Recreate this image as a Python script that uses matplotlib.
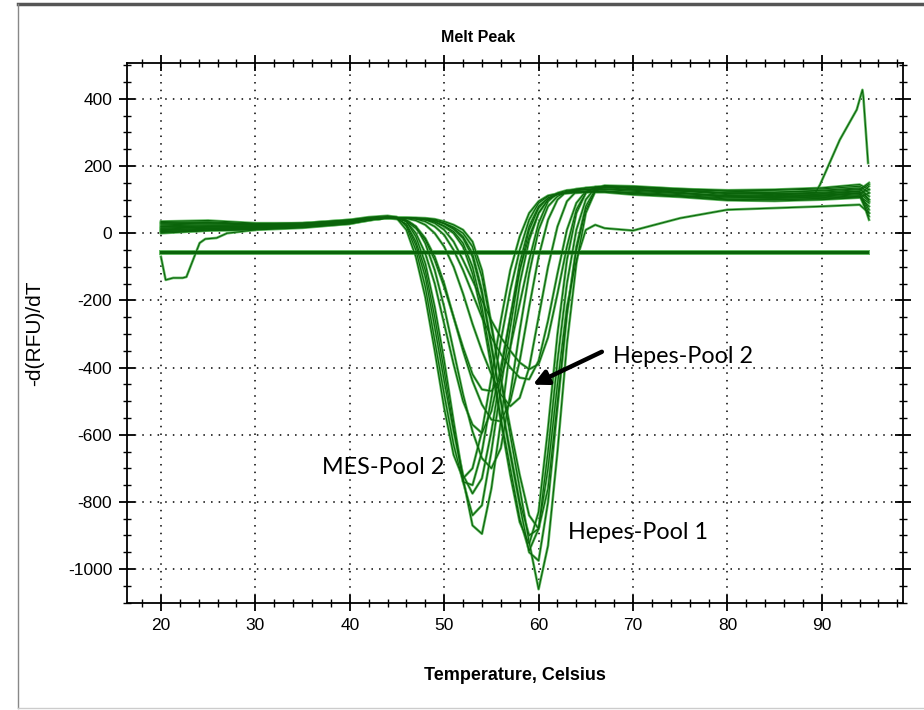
"""
Melt Peak : courbes -d(RFU)/dT en fonction de la température.

Trois groupes de puits : MES-Pool 2, Hepes-Pool 1 et Hepes-Pool 2.
Les valeurs sont relevées à la main sur la figure d'origine.
"""

import matplotlib.pyplot as plt
from matplotlib.lines import Line2D
from matplotlib.ticker import MultipleLocator


# ============================================================================
# Données
# ============================================================================

TEMP_LEFT = [20, 25, 30, 35, 40, 42]
TEMP_PEAK = [44, 45, 46, 47, 48, 49, 50, 51, 52, 53, 54, 55,
             56, 57, 58, 59, 60, 61, 62, 63, 64, 65, 66, 67]
TEMP_RIGHT = [70, 75, 80, 85, 90, 94, 95]

# MES-Pool 2
MES_LEFT = [
    [10, 15, 18, 22, 30, 38],
    [25, 28, 25, 28, 35, 42],
    [0, 8, 12, 18, 28, 40],
    [35, 38, 30, 30, 40, 48],
    [15, 20, 20, 25, 35, 45],
    [5, 10, 15, 20, 30, 40],
    [20, 22, 22, 26, 36, 44],
]
MES_PEAK = [
    [50, 48, 35, -10, -90, -220, -380, -560, -730, -870, -895, -760,
     -560, -340, -150, -20, 60, 100, 118, 125, 128, 130, 130, 130],
    [45, 42, 28, -25, -110, -250, -410, -580, -740, -840, -810, -650,
     -460, -280, -110, 10, 75, 105, 118, 122, 125, 126, 126, 126],
    [48, 45, 25, -35, -130, -280, -440, -590, -720, -775, -730, -590,
     -420, -250, -90, 20, 80, 105, 115, 120, 122, 124, 125, 125],
    [52, 48, 20, -50, -160, -320, -480, -630, -740, -750, -650, -490,
     -320, -170, -50, 40, 90, 110, 118, 120, 122, 123, 124, 124],
    [50, 44, 10, -70, -190, -350, -520, -660, -730, -700, -590, -430,
     -260, -110, -10, 60, 95, 112, 118, 120, 120, 122, 122, 122],
    [45, 45, 40, 20, -30, -110, -220, -350, -480, -590, -670, -700,
     -640, -480, -290, -120, 10, 80, 110, 122, 128, 130, 132, 132],
    [48, 46, 35, 0, -60, -150, -270, -390, -500, -570, -595, -530,
     -400, -250, -110, -10, 60, 100, 115, 120, 122, 124, 125, 125],
]
MES_RIGHT = [
    [125, 118, 112, 110, 112, 120, 70],
    [120, 112, 105, 104, 108, 115, 140],
    [118, 110, 100, 100, 104, 110, 90],
    [122, 115, 108, 106, 110, 118, 60],
    [115, 108, 98, 96, 100, 106, 120],
    [130, 125, 120, 122, 128, 135, 100],
    [118, 112, 102, 100, 102, 108, 80],
]

# Hepes-Pool 1
HEPES1_LEFT = [
    [12, 18, 20, 24, 32, 40],
    [30, 32, 26, 28, 38, 44],
    [2, 8, 10, 16, 28, 38],
    [18, 22, 22, 26, 34, 42],
    [28, 30, 28, 30, 38, 45],
    [8, 12, 15, 20, 30, 40],
]
HEPES1_PEAK = [
    [45, 45, 46, 46, 45, 42, 35, 25, 10, -25, -110, -270,
     -440, -600, -760, -920, -1060, -930, -650, -330, -90, 60, 125, 140],
    [45, 46, 46, 45, 43, 40, 30, 15, -10, -60, -170, -330,
     -500, -660, -810, -950, -975, -800, -520, -240, -40, 80, 130, 140],
    [46, 46, 45, 44, 40, 35, 22, 5, -30, -100, -220, -380,
     -550, -700, -850, -945, -880, -650, -380, -150, 10, 100, 135, 142],
    [44, 44, 44, 43, 40, 33, 20, 0, -40, -120, -240, -400,
     -560, -720, -860, -925, -830, -580, -300, -80, 60, 120, 138, 140],
    [45, 45, 45, 44, 42, 38, 30, 18, 0, -40, -130, -280,
     -430, -580, -720, -840, -880, -760, -500, -240, -50, 70, 125, 138],
    [45, 45, 45, 44, 42, 38, 28, 12, -15, -70, -180, -340,
     -500, -650, -800, -900, -880, -700, -450, -220, -80, 10, 25, 15],
]
HEPES1_RIGHT = [
    [135, 128, 120, 118, 122, 130, 150],
    [138, 130, 118, 115, 118, 125, 100],
    [140, 132, 125, 122, 126, 132, 110],
    [132, 122, 110, 108, 112, 120, 130],
    [136, 126, 115, 112, 116, 124, 40],
    [8, 45, 70, 75, 80, 85, 60],
]

# Hepes-Pool 2
HEPES2_LEFT = [
    [15, 18, 18, 22, 32, 40],
    [22, 25, 24, 28, 36, 44],
    [5, 10, 12, 18, 30, 40],
    [32, 34, 28, 30, 40, 46],
    [10, 14, 16, 22, 32, 42],
]
HEPES2_PEAK = [
    [45, 44, 35, 15, -20, -80, -160, -250, -340, -420, -465, -470,
     -430, -340, -210, -80, 30, 95, 120, 128, 130, 132, 132, 132],
    [46, 46, 44, 38, 25, 0, -40, -100, -180, -270, -350, -420,
     -480, -515, -490, -400, -250, -100, 20, 95, 125, 135, 138, 138],
    [45, 44, 38, 20, -15, -70, -150, -250, -350, -440, -510, -555,
     -560, -500, -380, -220, -70, 40, 100, 125, 132, 135, 136, 136],
    [46, 46, 45, 42, 35, 20, -5, -50, -110, -180, -250, -310,
     -360, -400, -430, -435, -380, -260, -120, 10, 90, 125, 135, 138],
    [47, 47, 46, 44, 40, 30, 10, -25, -80, -140, -200, -260,
     -310, -350, -385, -405, -390, -310, -180, -40, 70, 120, 135, 140],
]
HEPES2_RIGHT = [
    [128, 120, 112, 110, 114, 120, 95],
    [135, 128, 120, 118, 120, 126, 145],
    [130, 120, 108, 104, 106, 112, 50],
    [136, 130, 126, 128, 132, 140, 120],
    [138, 132, 128, 130, 135, 145, 130],
]

# Puits atypiques : creux au début et pic à la fin
DIP_TEMP = [20, 20.5, 21.3, 22.3, 22.7, 24.1, 24.7, 25.9, 27, 30]
DIP_VALUES = [-70, -139, -133, -133, -130, -29, -17, -14, 0, 10]

SPIKE_TEMP = [86, 89.3, 89.8, 91.9, 93.7, 94.3, 94.4, 94.9]
SPIKE_VALUES = [115, 120, 144, 278, 368, 427, 406, 209]

THRESHOLD = -57
THRESHOLD_TEMP = [20, 94.8]


# ============================================================================
# Figure
# ============================================================================

GREEN = "#0a640a"
HALO = "#66bb66"
TEXT_FONT = ["Liberation Sans", "DejaVu Sans"]

plt.rcParams["axes.unicode_minus"] = False


def collect_curves():
    """Renvoie la liste des couples (températures, valeurs) à tracer."""
    temps = TEMP_LEFT + TEMP_PEAK + TEMP_RIGHT
    curves = []
    for lefts, peaks, rights in [
        (MES_LEFT, MES_PEAK, MES_RIGHT),
        (HEPES1_LEFT, HEPES1_PEAK, HEPES1_RIGHT),
        (HEPES2_LEFT, HEPES2_PEAK, HEPES2_RIGHT),
    ]:
        for left, peak, right in zip(lefts, peaks, rights):
            curves.append((temps, left + peak + right))
    curves.append((DIP_TEMP, DIP_VALUES))
    curves.append((SPIKE_TEMP, SPIKE_VALUES))
    return curves


def main():
    fig = plt.figure(figsize=(9.24, 7.10), dpi=100)
    ax = fig.add_axes([0.1374, 0.1507, 0.8399, 0.7606])

    curves = collect_curves()

    # Halo vert clair d'abord, puis le trait sombre par-dessus
    for temps, values in curves:
        ax.plot(temps, values, color=HALO, lw=1.9, zorder=2)
    ax.plot(THRESHOLD_TEMP, [THRESHOLD, THRESHOLD], color=HALO, lw=3.6,
            zorder=2)
    for temps, values in curves:
        ax.plot(temps, values, color=GREEN, lw=0.8, zorder=3)
    ax.plot(THRESHOLD_TEMP, [THRESHOLD, THRESHOLD], color=GREEN, lw=2.2,
            zorder=3)

    ax.set_xlim(16.4, 98.6)
    ax.set_ylim(-1101, 507)
    ax.xaxis.set_minor_locator(MultipleLocator(2))
    ax.yaxis.set_minor_locator(MultipleLocator(50))
    ax.set_xticks(range(20, 100, 10))
    ax.set_yticks(range(-1000, 401, 200))
    ax.tick_params(which="both", direction="inout", top=True, right=True,
                   color="black")
    ax.tick_params(which="major", length=11, width=1.3, labelsize=12.5,
                   pad=5)
    ax.tick_params(which="minor", length=6, width=1.0)
    for lab in ax.get_xticklabels() + ax.get_yticklabels():
        lab.set_family(TEXT_FONT)
    for spine in ax.spines.values():
        spine.set_linewidth(1.3)

    ax.grid(True, which="major", color="black", ls=(0, (1, 4)), lw=1.1)

    ax.set_xlabel("Temperature, Celsius", fontsize=13, fontweight="bold",
                  family=TEXT_FONT)
    ax.xaxis.set_label_coords(0.5, -(667 - 603) / 540)
    ax.set_ylabel("-d(RFU)/dT", fontsize=15, family=TEXT_FONT)
    ax.yaxis.set_label_coords(-(127 - 44) / 776, 0.5)
    fig.text(478 / 924, 1 - 37 / 710, "Melt Peak", ha="center", va="center",
             fontsize=11.5, fontweight="bold", family=TEXT_FONT)

    note_font = dict(fontsize=16.8, family=["Lato", "DejaVu Sans"],
                     va="center", zorder=5)
    ax.text(67.9, -368, "Hepes-Pool 2", **note_font)
    ax.text(37.05, -699, "MES-Pool 2", **note_font)
    ax.text(63.1, -890, "Hepes-Pool 1", **note_font)
    ax.annotate(
        "",
        xy=(59.4, -451),
        xytext=(66.7, -353),
        arrowprops=dict(arrowstyle="-|>", color="black", lw=3.2,
                        mutation_scale=22, shrinkA=0, shrinkB=0),
        zorder=5,
    )

    # Cadre extérieur de la capture d'origine
    fig.add_artist(Line2D([18 / 924, 1], [1 - 4 / 710, 1 - 4 / 710],
                          color="#555555", lw=2.5))
    fig.add_artist(Line2D([18 / 924, 18 / 924], [1 - 4 / 710, 1 - 708 / 710],
                          color="#888888", lw=1))
    fig.add_artist(Line2D([18 / 924, 1], [1 - 708 / 710, 1 - 708 / 710],
                          color="#cccccc", lw=1))

    fig.savefig("out.png", dpi=100)
    plt.close(fig)


if __name__ == "__main__":
    main()
